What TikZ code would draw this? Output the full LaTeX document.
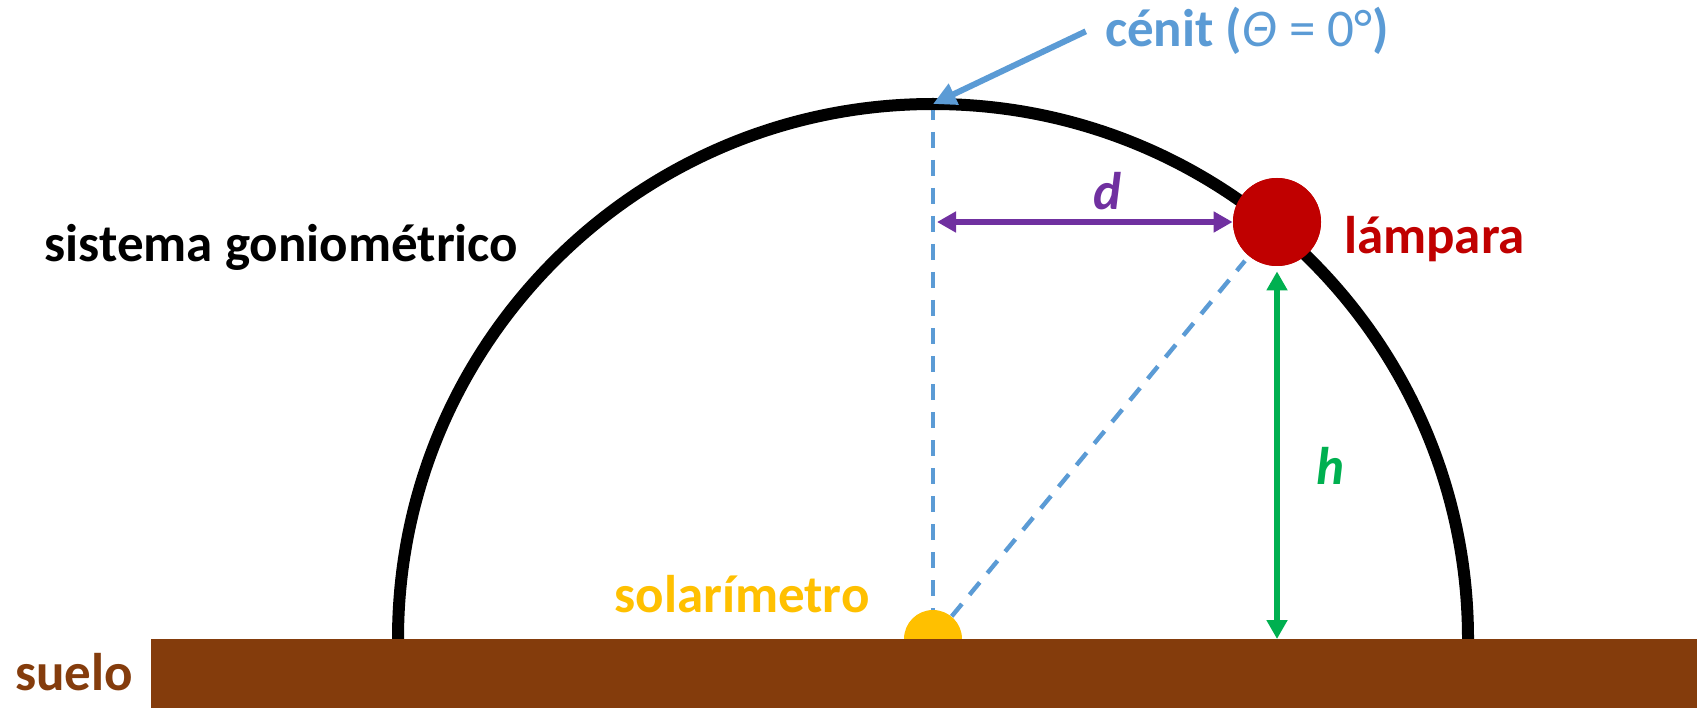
\documentclass[tikz,border=0pt]{standalone}
\usepackage{fontspec}
\setmainfont{Carlito}
\usetikzlibrary{arrows.meta}

\definecolor{zenithblue}{HTML}{5B9BD5}
\definecolor{lampred}{HTML}{C00000}
\definecolor{sunyellow}{HTML}{FFC000}
\definecolor{soilbrown}{HTML}{843C0C}
\definecolor{dpurple}{HTML}{7030A0}
\definecolor{hgreen}{HTML}{00B050}

\begin{document}
\begin{tikzpicture}[x=0.5pt, y=0.5pt,
  dome/.style={line width=6pt},
  ray/.style={zenithblue, dash pattern=on 8pt off 6pt, line width=2.2pt},
  pointer/.style={zenithblue, line width=3pt, -{Triangle[length=11.5pt, width=11pt]}},
  dimline/.style={line width=2.6pt, {Triangle[length=9.5pt, width=10pt]}-{Triangle[length=9.5pt, width=10pt]}},
  lampdot/.style={circle, fill=lampred, minimum size=44pt, inner sep=0pt},
  sensor/.style={circle, fill=sunyellow, minimum size=29pt, inner sep=0pt},
  lbl/.style={font=\fontsize{26.5}{30}\selectfont\bfseries, anchor=base, inner sep=0pt},
  dimlbl/.style={lbl, font=\fontsize{26.5}{30}\selectfont\bfseries\itshape}
]
\useasboundingbox (0,0) rectangle (1697,708);

\coordinate (zenith) at (933,604);
\coordinate (groundline) at (0,69);
\node[lampdot] (lamp) at (1277,486) {};
\node[sensor] (solar) at (933,69) {};

\draw[ray] (zenith) -- (solar);
\draw[ray, shorten >=3pt] (solar) -- (lamp);
\draw[dome] (398,69) arc[start angle=180, end angle=0, radius=535];
\node[lampdot] at (lamp) {};

\fill[soilbrown] (151,0) rectangle (1697,69);

\node[lbl, zenithblue] (zenlabel) at (1247,661) {cénit ({\mdseries\itshape Θ} {\mdseries = 0°})};
\draw[pointer] ([xshift=-9.5pt]zenlabel.west) -- (zenith);

\draw[dimline, dpurple] ([xshift=2pt]zenith |- lamp.west) -- (lamp.west);
\node[dimlbl, dpurple] (dlabel) at (1107,498) {d};

\draw[dimline, hgreen] ([yshift=-2.5pt]lamp.south) -- (lamp |- groundline);
\node[dimlbl, hgreen] (hlabel) at (1330,224) {h};

\node[lbl] (gonio) at (281.5,446) {sistema goniométrico};
\node[lbl, lampred] (lamplabel) at (1434.5,454) {lámpara};
\node[lbl, sunyellow] (solarlabel) at (742,96) {solarímetro};
\node[lbl, soilbrown] (soillabel) at (74,18) {suelo};
\end{tikzpicture}
\end{document}
